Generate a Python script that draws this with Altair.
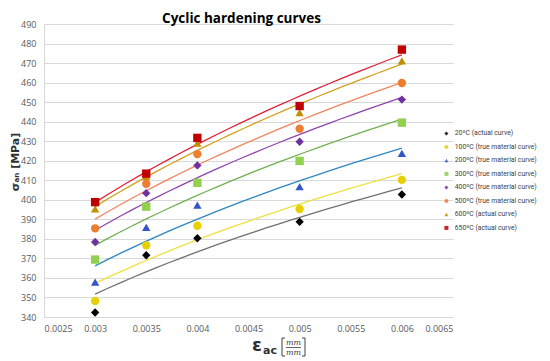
import altair as alt
import pandas as pd

# ---- data ----
strain = [0.003, 0.0035, 0.004, 0.005, 0.006]
series_labels = [
    "\u00a0\u00a0\u00a020ºC (actual curve)",
    "100ºC (true material curve)",
    "200ºC (true material curve)",
    "300ºC (true material curve)",
    "400ºC (true material curve)",
    "500ºC (true material curve)",
    "600ºC (actual curve)",
    "650ºC (actual curve)",
]
s20 = [342.3, 371.6, 380.3, 388.7, 402.7]
s100 = [348.2, 376.7, 386.7, 395.3, 410.2]
s200 = [357.8, 385.9, 397.3, 406.7, 423.8]
s300 = [369.4, 396.5, 408.7, 419.9, 439.5]
s400 = [378.4, 403.4, 417.6, 429.7, 451.3]
s500 = [385.4, 408.2, 423.4, 436.4, 459.8]
s600 = [395.3, 412.0, 429.0, 444.6, 471.1]
s650 = [398.8, 413.4, 431.7, 448.0, 476.9]
all_series = [s20, s100, s200, s300, s400, s500, s600, s650]

x_ticks = [0.0025, 0.003, 0.0035, 0.004, 0.0045, 0.005, 0.0055, 0.006, 0.0065]
y_ticks = list(range(340, 500, 10))

point_colors = ["#000000", "#E6D000", "#3355C8", "#92D050", "#7030A0", "#ED7D31", "#C09000", "#C00000"]
line_colors = ["#707070", "#F0E040", "#2E86C1", "#70B050", "#8E44AD", "#F4845F", "#D4A020", "#E0203A"]
shapes = ["diamond", "circle", "triangle-up", "square", "diamond", "circle", "triangle-up", "square"]

rows = []
for lab, vals in zip(series_labels, all_series):
    for xv, yv in zip(strain, vals):
        rows.append({"series": lab, "x": xv, "y": yv})
df = pd.DataFrame(rows)

xs = alt.Scale(domain=[0.0025, 0.0065], nice=False, zero=False)
ys = alt.Scale(domain=[340, 490], nice=False, zero=False)

xenc = alt.X("x:Q", scale=xs, axis=alt.Axis(values=x_ticks, format="~g", title=None,
                                            grid=False, ticks=False, labelPadding=7))
yenc = alt.Y("y:Q", scale=ys, axis=alt.Axis(values=y_ticks, title=None, ticks=False,
                                            labelPadding=8))

base = alt.Chart(df)

lines = base.transform_regression(
    "x", "y", method="pow", groupby=["series"]
).mark_line(strokeWidth=1.3).encode(
    x=xenc, y=yenc,
    color=alt.Color("series:N", scale=alt.Scale(domain=series_labels, range=line_colors), legend=None),
    detail="series:N",
)

points = base.mark_point(filled=True, size=70, opacity=1).encode(
    x=xenc, y=yenc,
    color=alt.Color("series:N", title=None,
                    scale=alt.Scale(domain=series_labels, range=point_colors),
                    legend=alt.Legend(orient="none", legendX=399, legendY=106)),
    shape=alt.Shape("series:N", title=None,
                    scale=alt.Scale(domain=series_labels, range=shapes),
                    legend=alt.Legend(orient="none", legendX=399, legendY=106)),
)

ann = alt.Chart(pd.DataFrame({"d": [0]}))
eps = ann.mark_text(text="ε", fontSize=18, fontWeight="bold", font="DejaVu Sans",
                    color="#303030", align="center", baseline="middle").encode(
    x=alt.value(213), y=alt.value(322))
ac = ann.mark_text(text="ac", fontSize=11, fontWeight="bold", font="DejaVu Sans",
                   color="#303030", align="left", baseline="middle").encode(
    x=alt.value(219), y=alt.value(327))
mm1 = ann.mark_text(text="mm", fontSize=8, font="DejaVu Serif", fontStyle="italic", color="#404040",
                    align="center", baseline="middle").encode(x=alt.value(249.5), y=alt.value(318.5))
mm2 = ann.mark_text(text="mm", fontSize=8, font="DejaVu Serif", fontStyle="italic", color="#404040",
                    align="center", baseline="middle").encode(x=alt.value(249.5), y=alt.value(328.5))
frac = ann.mark_rule(color="#404040", strokeWidth=0.8).encode(
    x=alt.value(242), x2=alt.value(257), y=alt.value(323.5))
# brackets around the unit fraction
lb_v = ann.mark_rule(color="#404040", strokeWidth=1).encode(
    x=alt.value(238), y=alt.value(314), y2=alt.value(332))
lb_t = ann.mark_rule(color="#404040", strokeWidth=1).encode(
    x=alt.value(238), x2=alt.value(241), y=alt.value(314))
lb_b = ann.mark_rule(color="#404040", strokeWidth=1).encode(
    x=alt.value(238), x2=alt.value(241), y=alt.value(332))
rb_v = ann.mark_rule(color="#404040", strokeWidth=1).encode(
    x=alt.value(261), y=alt.value(314), y2=alt.value(332))
rb_t = ann.mark_rule(color="#404040", strokeWidth=1).encode(
    x=alt.value(258), x2=alt.value(261), y=alt.value(314))
rb_b = ann.mark_rule(color="#404040", strokeWidth=1).encode(
    x=alt.value(258), x2=alt.value(261), y=alt.value(332))
ytitle = ann.mark_text(text="σₐₙ [MPa]", fontSize=11, fontWeight="bold", font="DejaVu Sans",
                       color="#303030", angle=270, align="center", baseline="middle").encode(
    x=alt.value(-28), y=alt.value(138))

chart = alt.layer(lines, points, eps, ac, mm1, mm2, frac, lb_v, lb_t, lb_b, rb_v, rb_t, rb_b,
                  ytitle).resolve_scale(
    color="independent", shape="independent"
).properties(
    width=409, height=293,
    title=alt.TitleParams("Cyclic hardening curves", fontSize=13.5, fontWeight="bold",
                          font="Open Sans", color="#000000", anchor="middle", offset=6, dx=-7, dy=11),
    autosize=alt.AutoSizeParams(type="none"),
    padding={"left": 36, "top": 16, "right": 89, "bottom": 40},
).configure_view(stroke=None).configure_axis(
    gridColor="#D9D9D9", domainColor="#D9D9D9", labelColor="#595959",
    labelFontSize=9, labelFont="Open Sans",
).configure_legend(
    labelFontSize=6.8, labelFont="Roboto", labelColor="#404040", symbolSize=16,
    rowPadding=2.5, labelOffset=5, symbolOpacity=0.85, labelLimit=200,
)

chart.save("out.html", embed_options={"renderer": "svg", "actions": False})
